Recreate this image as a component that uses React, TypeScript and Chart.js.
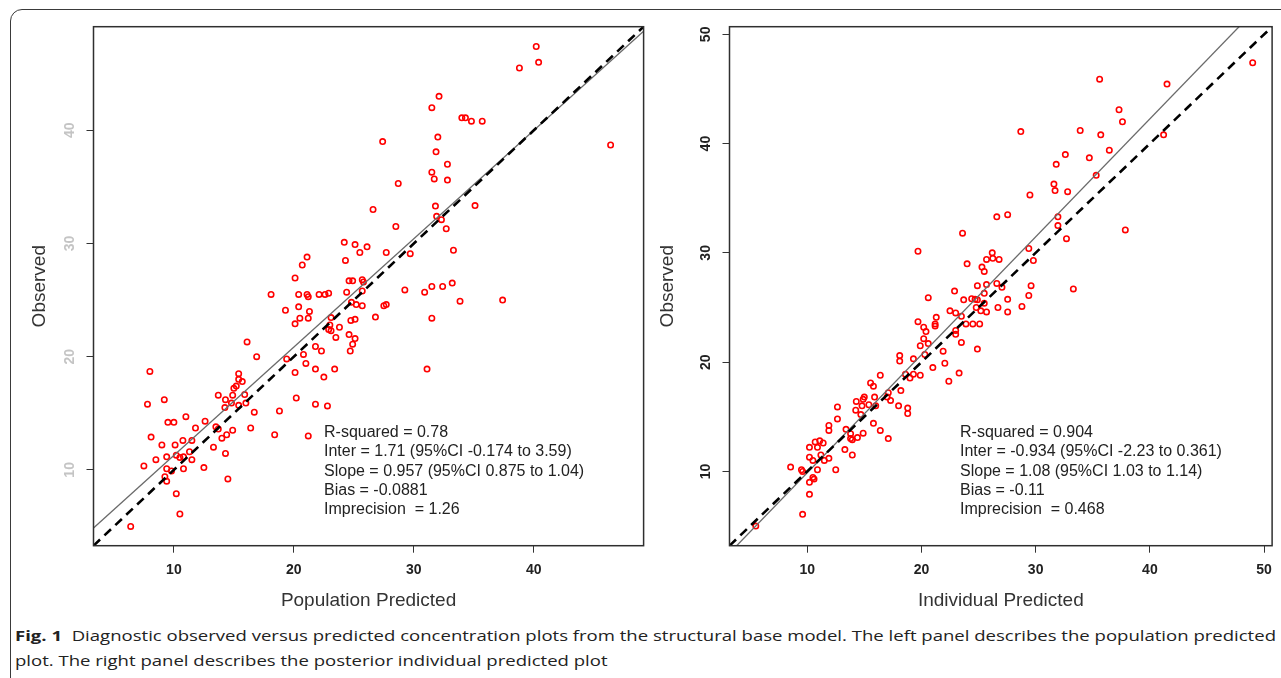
import React, { useEffect, useLayoutEffect, useRef, useState } from "react";
import { Chart, registerables } from "chart.js";

Chart.register(...registerables);

// ---------- data: population predicted (x) vs observed (y) ----------
const popPred = [
  8.0, 7.8, 9.2, 9.5, 10.0, 11.0, 8.1, 9.0, 10.1, 10.75, 11.5, 11.8, 12.6, 8.5, 7.5, 9.4, 10.2, 10.5, 10.8, 11.3,
  11.5, 9.4, 9.8, 9.25, 9.4, 10.8, 12.5, 10.2, 10.5, 6.4, 13.3, 13.5, 13.7, 14.0, 14.4, 14.9, 14.3, 14.5, 13.7, 14.3,
  14.25, 14.8, 14.9, 15.0, 15.2, 15.4, 15.4, 15.7, 15.9, 16.0, 15.4, 16.7, 16.4, 18.4, 18.8,
  26.6, 31.8, 31.9, 28.5, 24.2, 25.1, 26.1, 25.5, 27.7, 29.7, 21.1, 20.7, 24.3, 20.1, 24.6, 24.9, 25.7, 25.8, 18.1, 20.4,
  21.1, 21.2, 22.1, 22.6, 22.9, 24.4, 25.7, 29.25, 30.9, 31.5, 19.3, 20.4, 21.3, 20.5, 21.2, 20.1, 24.8, 25.2, 25.7, 27.5,
  27.7, 23.1, 24.75, 25.1, 26.8, 31.5, 23.0, 22.9, 23.1, 23.8, 23.5, 24.6, 25.1, 24.9, 24.7, 21.8, 22.3, 20.8, 16.9, 19.4,
  21.0, 21.8, 20.1, 22.5, 23.4, 31.1, 20.2,
  16.1, 21.2, 21.8, 22.8,
  40.2, 38.8, 40.4, 32.1, 31.5, 34.0, 34.3, 34.8, 35.7, 32.0, 27.4, 46.4, 31.85, 32.8, 31.5, 31.7, 32.8, 28.7, 35.1, 32.3,
  32.7, 33.3, 33.85, 37.4, 32.4, 33.2,
];
const popObs = [
  18.7, 15.8, 16.2, 14.2, 14.2, 14.7, 12.9, 12.2, 12.2, 12.6, 12.6, 13.7, 14.3, 10.9, 10.35, 11.15, 11.3, 11.1, 11.15, 11.6,
  10.9, 10.1, 9.9, 9.4, 9.0, 10.1, 10.2, 7.9, 6.1, 5.0, 12.0, 13.8, 13.6, 12.8, 13.1, 13.5, 11.45, 9.2, 16.6, 16.2,
  15.5, 15.9, 16.6, 17.2, 17.4, 18.5, 18.0, 17.8, 16.65, 15.9, 15.7, 15.1, 13.7, 13.1, 15.2,
  33.0, 33.3, 32.4, 31.5, 30.1, 29.9, 29.7, 29.2, 29.2, 29.1, 28.8, 28.1, 28.5, 26.95, 26.7, 26.7, 26.8, 26.6, 25.5, 25.5,
  25.5, 25.3, 25.5, 25.5, 25.6, 25.7, 25.8, 25.9, 25.7, 26.2, 24.1, 24.4, 24.0, 23.4, 23.4, 22.9, 24.8, 24.6, 24.5, 24.5,
  24.6, 23.45, 23.2, 23.3, 23.5, 23.4, 22.8, 22.4, 22.3, 22.6, 21.7, 21.95, 21.6, 21.1, 20.5, 20.9, 20.5, 20.2, 20.0, 19.8,
  19.4, 18.9, 18.6, 18.2, 18.9, 18.9, 16.35,
  21.3, 13.0, 15.8, 15.65,
  47.4, 45.5, 46.0, 43.0, 42.0, 41.1, 41.1, 40.8, 40.8, 39.4, 39.0, 38.7, 38.1, 37.0, 36.3, 35.7, 35.6, 35.3, 33.35, 32.1,
  31.3, 29.4, 24.9, 25.0, 26.2, 26.5,
];

// ---------- data: individual predicted (x) vs observed (y) ----------
const indPred = [
  15.55, 15.8, 19.0, 18.2, 17.1, 17.0, 17.3, 15.9, 15.0, 14.9, 14.3, 14.8, 15.4, 16.0, 14.25, 14.7, 18.0, 18.8, 18.8, 12.65,
  12.65, 11.9, 11.9, 13.4, 13.8, 13.8, 13.95, 14.4, 14.9, 15.8, 16.4, 17.1, 10.2, 10.7, 11.1, 11.4, 10.9, 13.3, 13.95, 10.2,
  10.5, 11.2, 11.5, 11.9, 8.55, 9.5, 10.9, 12.5, 10.5, 10.6, 10.2, 10.2, 9.6,
  9.6, 5.5, 22.4,
  26.6, 27.55, 23.6, 19.7, 26.2, 25.7, 26.25, 26.8, 29.4, 29.8, 24.0, 25.3, 25.5, 24.9, 25.7, 26.6, 27.05, 29.6, 29.4, 20.6,
  22.9, 23.7, 24.4, 24.7, 24.9, 25.5, 25.5, 24.8, 25.2, 25.7, 26.7, 27.55, 27.55, 28.8, 22.5, 23.0, 23.5, 23.9, 24.5, 25.1,
  21.3, 19.7, 21.2, 21.2, 20.2, 20.4, 23.0, 23.0, 20.2, 19.9, 20.6, 23.5, 24.9, 18.1, 18.1, 19.3, 21.9, 20.3, 22.05, 21.0,
  19.9, 23.3, 16.4, 18.6, 19.3,
  49.0, 35.6, 41.5, 37.3, 37.6, 28.7, 33.9, 35.7, 41.2, 36.45, 32.6, 34.7, 31.8, 35.3, 31.6, 31.7, 32.8, 29.5, 31.95, 31.95,
  37.85, 32.7, 33.3,
];
const indObs = [
  18.1, 17.8, 18.55, 17.4, 17.2, 16.8, 16.5, 16.8, 16.8, 16.6, 16.4, 16.0, 16.1, 16.0, 15.6, 15.2, 16.0, 15.8, 15.3, 15.9,
  14.8, 14.2, 13.75, 13.85, 13.45, 13.0, 12.9, 13.1, 13.5, 14.4, 13.75, 13.0, 12.2, 12.7, 12.8, 12.6, 12.2, 12.0, 11.5, 11.3,
  11.0, 11.5, 11.0, 11.2, 10.4, 10.15, 10.15, 10.15, 9.45, 9.3, 9.0, 7.9, 6.07,
  10.0, 5.0, 18.25,
  33.3, 33.5, 31.8, 30.15, 30.0, 29.4, 29.5, 29.4, 30.4, 29.3, 29.0, 28.7, 28.3, 27.0, 27.1, 27.2, 26.85, 27.0, 26.1, 25.9,
  26.5, 25.7, 25.8, 25.75, 25.7, 26.3, 25.4, 25.0, 24.7, 24.6, 25.0, 25.75, 24.6, 25.1, 24.7, 24.5, 24.2, 23.5, 23.5, 23.5,
  24.1, 23.7, 23.5, 23.3, 23.2, 22.8, 22.9, 22.55, 22.15, 21.5, 21.7, 21.8, 21.2, 20.6, 20.1, 20.3, 21.0, 20.7, 19.9, 19.5,
  18.8, 19.0, 18.8, 18.9, 18.9,
  47.4, 45.9, 45.45, 43.1, 42.0, 41.1, 41.2, 40.8, 40.8, 39.4, 39.0, 38.7, 38.1, 37.1, 36.3, 35.7, 35.6, 35.3, 33.3, 32.5,
  32.1, 31.3, 26.7,
];

const popTicks = [10, 20, 30, 40];
const indTicks = [10, 20, 30, 40, 50];
const popRange = [3.3, 49.15];
const indRange = [3.2, 50.7];
const popFit = [1.71, 0.957]; // intercept, slope
const indFit = [-0.934, 1.08];
const popStats = [
  "R-squared = 0.78",
  "Inter = 1.71 (95%CI -0.174 to 3.59)",
  "Slope = 0.957 (95%CI 0.875 to 1.04)",
  "Bias = -0.0881",
  "Imprecision  = 1.26",
];
const indStats = [
  "R-squared = 0.904",
  "Inter = -0.934 (95%CI -2.23 to 0.361)",
  "Slope = 1.08 (95%CI 1.03 to 1.14)",
  "Bias = -0.11",
  "Imprecision  = 0.468",
];

const FONT = "'Liberation Sans', Arial, Helvetica, sans-serif";

type PanelProps = {
  left: number;
  width: number;
  height: number;
  yAxisWidth: number;
  padRight: number;
  padTop: number;
  xAxisHeight: number;
  yTitlePad: number;
  pred: number[];
  obs: number[];
  ticks: number[];
  range: number[];
  fit: number[];
  stats: string[];
  xTitle: string;
  yTickColor: string;
};

function Panel(p: PanelProps) {
  const ref = useRef<HTMLCanvasElement | null>(null);
  useEffect(() => {
    if (!ref.current) return;
    const tickFont = { family: FONT, size: 14, weight: "bold" as const };
    const boxPlugin = {
      id: "boxAndStats",
      afterDatasetsDraw(chart: any) {
        const { ctx, chartArea } = chart;
        ctx.save();
        ctx.strokeStyle = "#2f2f2f";
        ctx.lineWidth = 1.5;
        ctx.strokeRect(chartArea.left, chartArea.top, chartArea.right - chartArea.left, chartArea.bottom - chartArea.top);
        ctx.fillStyle = "#222";
        ctx.font = `16px ${FONT}`;
        ctx.textBaseline = "middle";
        ctx.textAlign = "left";
        p.stats.forEach((s, i) => {
          ctx.fillText(s, chartArea.left + 230.5, chartArea.top + 405.6 + i * 19.4);
        });
        ctx.restore();
      },
    };
    const [lo, hi] = p.range;
    const [b0, b1] = p.fit;
    const titleFont = { family: FONT, size: 19 };
    const chart = new Chart(ref.current, {
      type: "scatter",
      data: {
        datasets: [
          {
            data: [{ x: lo, y: lo }, { x: hi, y: hi }],
            showLine: true,
            borderColor: "#000",
            borderWidth: 2.6,
            borderDash: [9, 6],
            pointRadius: 0,
          },
          {
            data: [{ x: lo, y: b0 + b1 * lo }, { x: hi, y: b0 + b1 * hi }],
            showLine: true,
            borderColor: "#6a6a6a",
            borderWidth: 1.3,
            pointRadius: 0,
          },
          {
            data: p.pred.map((x, i) => ({ x, y: p.obs[i] })),
            showLine: false,
            pointRadius: 2.7,
            pointBorderWidth: 1.6,
            pointBorderColor: "#ff0000",
            pointBackgroundColor: "rgba(255,255,255,0)",
            borderColor: "#ff0000",
            backgroundColor: "rgba(255,255,255,0)",
          },
        ],
      } as any,
      options: {
        animation: false,
        responsive: false,
        maintainAspectRatio: false,
        events: [],
        layout: { padding: { left: 0, top: p.padTop, right: p.padRight, bottom: 0 } },
        plugins: { legend: { display: false }, tooltip: { enabled: false } },
        scales: {
          x: {
            type: "linear",
            min: lo,
            max: hi,
            afterBuildTicks: (s: any) => {
              s.ticks = p.ticks.map((v) => ({ value: v }));
            },
            afterFit: (s: any) => {
              s.height = p.xAxisHeight;
            },
            grid: { display: true, drawOnChartArea: false, drawTicks: true, tickLength: 7, color: "#333", lineWidth: 1 },
            border: { display: false },
            ticks: { font: tickFont, color: "#222", padding: 9, maxRotation: 0, minRotation: 0, autoSkip: false },
            title: { display: true, text: p.xTitle, font: titleFont, color: "#333", padding: { top: 0, bottom: 7.6 } },
          },
          y: {
            type: "linear",
            min: lo,
            max: hi,
            afterBuildTicks: (s: any) => {
              s.ticks = p.ticks.map((v) => ({ value: v }));
            },
            afterFit: (s: any) => {
              s.width = p.yAxisWidth;
            },
            grid: { display: true, drawOnChartArea: false, drawTicks: true, tickLength: 7, color: "#333", lineWidth: 1 },
            border: { display: false },
            ticks: {
              font: tickFont,
              color: p.yTickColor,
              padding: 8.5,
              minRotation: 90,
              maxRotation: 90,
              crossAlign: "center",
              autoSkip: false,
            },
            title: { display: true, text: "Observed", font: titleFont, color: "#333", padding: { top: p.yTitlePad, bottom: 0 } },
          },
        },
      } as any,
      plugins: [boxPlugin],
    });
    return () => chart.destroy();
  }, []);
  return (
    <canvas
      ref={ref}
      width={p.width}
      height={p.height}
      style={{ position: "absolute", left: p.left, top: 0, width: p.width, height: p.height }}
    />
  );
}

const captionLine1 =
  "Diagnostic observed versus predicted concentration plots from the structural base model. The left panel describes the population predicted";
const captionLine2 = "plot. The right panel describes the posterior individual predicted plot";

function Caption() {
  const ref = useRef<HTMLSpanElement | null>(null);
  const [sx, setSx] = useState(1);
  useLayoutEffect(() => {
    if (ref.current) {
      const w = ref.current.getBoundingClientRect().width;
      if (w > 0) setSx(1261 / w);
    }
  }, []);
  const common: React.CSSProperties = {
    position: "absolute",
    left: 15,
    whiteSpace: "nowrap",
    fontFamily: "'Open Sans', 'Noto Sans', sans-serif",
    fontSize: 15,
    color: "#222",
    transformOrigin: "0 0",
    transform: `scaleX(${sx})`,
    lineHeight: "20px",
  };
  return (
    <>
      <div style={{ ...common, top: 625 }}>
        <span ref={ref} style={{ display: "inline-block" }}>
          <b style={{ fontWeight: 700 }}>Fig. 1</b>
          {"\u00a0\u00a0"}
          {captionLine1}
        </span>
      </div>
      <div style={{ ...common, top: 650 }}>{captionLine2}</div>
    </>
  );
}

export default function App() {
  return (
    <div
      style={{
        position: "absolute",
        left: 0,
        top: 0,
        width: 1281,
        height: 678,
        overflow: "hidden",
        background: "#fff",
      }}
    >
      <div
        style={{
          position: "absolute",
          left: 10,
          top: 9,
          width: 1320,
          height: 720,
          border: "1.5px solid #3a3a3a",
          borderTopLeftRadius: 12,
          boxSizing: "border-box",
        }}
      />
      <Panel
        left={0}
        width={655}
        height={620}
        yAxisWidth={93.5}
        padRight={11.4}
        padTop={26.7}
        xAxisHeight={74.3}
        yTitlePad={28.6}
        pred={popPred}
        obs={popObs}
        ticks={popTicks}
        range={popRange}
        fit={popFit}
        stats={popStats}
        xTitle="Population Predicted"
        yTickColor="#c4c4c4"
      />
      <Panel
        left={655}
        width={626}
        height={620}
        yAxisWidth={74.5}
        padRight={7}
        padTop={26.7}
        xAxisHeight={74.3}
        yTitlePad={1.6}
        pred={indPred}
        obs={indObs}
        ticks={indTicks}
        range={indRange}
        fit={indFit}
        stats={indStats}
        xTitle="Individual Predicted"
        yTickColor="#222"
      />
      <Caption />
    </div>
  );
}
